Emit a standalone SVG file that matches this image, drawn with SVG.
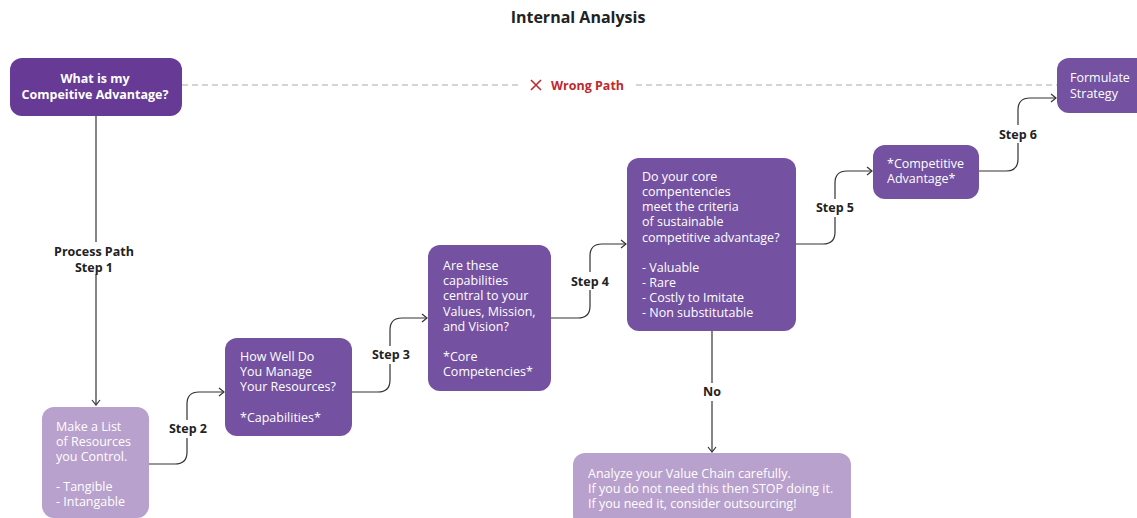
<svg xmlns="http://www.w3.org/2000/svg" width="1137" height="518" viewBox="0 0 1137 518">
<style>
text{font-family:"Open Sans","Noto Sans",sans-serif;}
.title{font-size:16px;font-weight:bold;fill:#222;text-anchor:middle;}
.nt{font-size:12.5px;fill:#fff;}
.bt{font-size:12.5px;font-weight:bold;fill:#fff;text-anchor:middle;}
.lbl{font-size:12.5px;font-weight:bold;fill:#222;text-anchor:middle;}
.dark{fill:#663a95;}
.mid{fill:#7451a1;}
.light{fill:#b9a1cd;}
.conn{fill:none;stroke:#333;stroke-width:1.2;}
</style>
<defs>
<marker id="arr" markerWidth="10" markerHeight="10" refX="8" refY="5" orient="auto" markerUnits="userSpaceOnUse">
<path d="M3,1 L8,5 L3,9" fill="none" stroke="#333" stroke-width="1.2"/>
</marker>
</defs>
<rect width="1137" height="518" fill="#fff"/>
<text class="title" x="578" y="23">Internal Analysis</text>

<g id="connectors">
<line x1="182" y1="85" x2="522" y2="85" stroke="#aaa" stroke-width="1.2" stroke-dasharray="6,4"/>
<line x1="636" y1="85" x2="1057" y2="85" stroke="#aaa" stroke-width="1.2" stroke-dasharray="6,4"/>
<path d="M531,80 L541,90 M541,80 L531,90" stroke="#c0282d" stroke-width="1.6"/>
<text x="551" y="89.5" style="font-size:12.5px;font-weight:bold;fill:#c0282d;">Wrong Path</text>

<path class="conn" d="M96,116 V405" marker-end="url(#arr)"/>
<rect x="50" y="242" width="92" height="32" fill="#fff"/>
<text class="lbl" x="94" y="256">Process Path</text>
<text class="lbl" x="94" y="272">Step 1</text>

<path class="conn" d="M149,464 H175 Q187,464 187,452 V404 Q187,392 199,392 H224" marker-end="url(#arr)"/>
<rect x="165" y="420" width="46" height="18" fill="#fff"/>
<text class="lbl" x="188" y="433">Step 2</text>

<path class="conn" d="M352,392 H378 Q390,392 390,380 V330 Q390,318 402,318 H427" marker-end="url(#arr)"/>
<rect x="368" y="346" width="46" height="18" fill="#fff"/>
<text class="lbl" x="391" y="359">Step 3</text>

<path class="conn" d="M551,318 H578 Q590,318 590,306 V256 Q590,244 602,244 H626" marker-end="url(#arr)"/>
<rect x="567" y="272" width="46" height="18" fill="#fff"/>
<text class="lbl" x="590" y="286">Step 4</text>

<path class="conn" d="M796,244 H823 Q835,244 835,232 V183 Q835,171 847,171 H872" marker-end="url(#arr)"/>
<rect x="812" y="199" width="46" height="18" fill="#fff"/>
<text class="lbl" x="835" y="212">Step 5</text>

<path class="conn" d="M979,171 H1006 Q1018,171 1018,159 V110 Q1018,98 1030,98 H1056" marker-end="url(#arr)"/>
<rect x="995" y="125" width="46" height="18" fill="#fff"/>
<text class="lbl" x="1018" y="139">Step 6</text>

<path class="conn" d="M712,331 V452" marker-end="url(#arr)"/>
<rect x="698" y="383" width="28" height="18" fill="#fff"/>
<text class="lbl" x="712" y="396">No</text>
</g>

<g id="node-question">
<rect class="dark" x="10" y="58" width="172" height="58" rx="12"/>
<text class="bt" x="95" y="83">What is my</text>
<text class="bt" x="95" y="99">Compeitive Advantage?</text>
</g>

<g id="node-formulate">
<rect class="mid" x="1057" y="58" width="95" height="55" rx="12"/>
<text class="nt" x="1070" y="82">Formulate</text>
<text class="nt" x="1070" y="98">Strategy</text>
</g>

<g id="node-resources">
<rect class="light" x="42" y="407" width="107" height="111" rx="12"/>
<text class="nt" x="56" y="431">Make a List</text>
<text class="nt" x="56" y="446">of Resources</text>
<text class="nt" x="56" y="461">you Control.</text>
<text class="nt" x="56" y="491">- Tangible</text>
<text class="nt" x="56" y="506">- Intangable</text>
</g>

<g id="node-capabilities">
<rect class="mid" x="225" y="338" width="127" height="98" rx="12"/>
<text class="nt" x="240" y="361">How Well Do</text>
<text class="nt" x="240" y="376">You Manage</text>
<text class="nt" x="240" y="391">Your Resources?</text>
<text class="nt" x="240" y="422">*Capabilities*</text>
</g>

<g id="node-core">
<rect class="mid" x="428" y="245" width="123" height="146" rx="12"/>
<text class="nt" x="443" y="270">Are these</text>
<text class="nt" x="443" y="285">capabilities</text>
<text class="nt" x="443" y="300">central to your</text>
<text class="nt" x="443" y="316">Values, Mission,</text>
<text class="nt" x="443" y="331">and Vision?</text>
<text class="nt" x="443" y="361">*Core</text>
<text class="nt" x="443" y="376">Competencies*</text>
</g>

<g id="node-criteria">
<rect class="mid" x="627" y="158" width="169" height="173" rx="12"/>
<text class="nt" x="642" y="181">Do your core</text>
<text class="nt" x="642" y="196">compentencies</text>
<text class="nt" x="642" y="211">meet the criteria</text>
<text class="nt" x="642" y="226">of sustainable</text>
<text class="nt" x="642" y="242">competitive advantage?</text>
<text class="nt" x="642" y="272">- Valuable</text>
<text class="nt" x="642" y="287">- Rare</text>
<text class="nt" x="642" y="302">- Costly to Imitate</text>
<text class="nt" x="642" y="317">- Non substitutable</text>
</g>

<g id="node-advantage">
<rect class="mid" x="873" y="145" width="106" height="54" rx="12"/>
<text class="nt" x="887" y="168">*Competitive</text>
<text class="nt" x="887" y="183">Advantage*</text>
</g>

<g id="node-valuechain">
<rect class="light" x="573" y="453" width="278" height="75" rx="12"/>
<text class="nt" x="588" y="478">Analyze your Value Chain carefully.</text>
<text class="nt" x="588" y="493">If you do not need this then STOP doing it.</text>
<text class="nt" x="588" y="508">If you need it, consider outsourcing!</text>
</g>
</svg>
